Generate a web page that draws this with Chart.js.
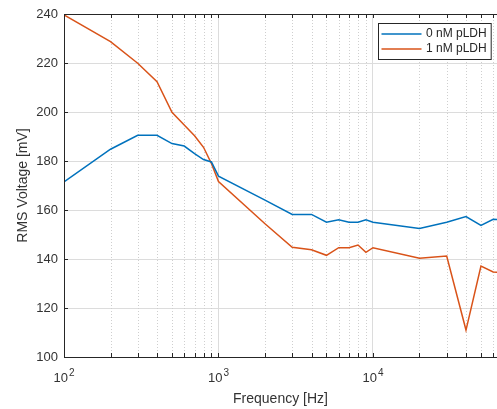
<!DOCTYPE html>
<html><head><meta charset="utf-8">
<script src="https://cdn.jsdelivr.net/npm/chart.js@4"></script>
<style>html,body{margin:0;padding:0;background:#fff;overflow:hidden}</style>
</head><body>
<canvas id="c" width="497" height="409"></canvas>
<script>
const frequencies = [100,200,300,400,500,600,700,800,900,1000,2000,3000,4000,5000,6000,7000,8000,9000,10000,20000,30000,40000,50000,60000,70000];
const rms0nM = [171.5,184.8,190.5,190.5,187.1,186.1,183.0,180.6,179.6,173.8,164.0,158.2,158.2,155.0,156.0,155.0,155.0,156.0,155.0,152.5,155.0,157.3,153.7,156.2,156.0];
const rms1nM = [239.6,228.7,219.9,212.4,199.9,194.7,190.3,185.6,179.0,171.6,154.4,144.8,143.8,141.5,144.6,144.6,145.7,142.7,144.6,140.3,141.2,111.0,137.1,134.7,134.5];
const seriesLabels = ['0 nM pLDH','1 nM pLDH'];
const xMajorTicks = [100,1000,10000];
const xLabelBase = '10';
const xLabelExponents = ['2','3','4'];
const xMinorTicks = [200,300,400,500,600,700,800,900,2000,3000,4000,5000,6000,7000,8000,9000,20000,30000,40000,50000,60000];
const yTicks = [100,120,140,160,180,200,220,240];
const xTitle = 'Frequency [Hz]';
const yTitle = 'RMS Voltage [mV]';

const FONT = '"Liberation Sans", Arial, Helvetica, sans-serif';
const AXIS = '#262626';
const LABEL = '#333333';
const toPoints = ys => frequencies.map((f,i)=>({x:f,y:ys[i]}));

const matlabFrame = {
  id:'matlabFrame',
  beforeDatasetsDraw(chart){
    const {ctx, chartArea:a, scales:{x}} = chart;
    ctx.save();
    ctx.strokeStyle='#cfcfcf'; ctx.lineWidth=1; ctx.setLineDash([1,2]);
    xMinorTicks.forEach(v=>{
      const px=Math.round(x.getPixelForValue(v))+0.5;
      if(px<a.left||px>a.right) return;
      ctx.beginPath(); ctx.moveTo(px,a.top); ctx.lineTo(px,a.bottom); ctx.stroke();
    });
    ctx.restore();
  },
  afterDatasetsDraw(chart){
    const {ctx, chartArea:a, scales:{x,y}} = chart;
    ctx.save();
    ctx.strokeStyle=AXIS; ctx.lineWidth=1;
    ctx.beginPath();
    ctx.moveTo(a.left,a.top+0.5); ctx.lineTo(a.right,a.top+0.5);
    ctx.moveTo(a.left+0.5,a.top); ctx.lineTo(a.left+0.5,a.bottom);
    ctx.moveTo(a.left,a.bottom+0.5); ctx.lineTo(a.right,a.bottom+0.5);
    ctx.stroke();
    const L=4;
    ctx.beginPath();
    xMajorTicks.concat(xMinorTicks).forEach(v=>{
      const px=Math.round(x.getPixelForValue(v))+0.5;
      if(px<a.left||px>a.right) return;
      ctx.moveTo(px,a.bottom); ctx.lineTo(px,a.bottom-L);
      ctx.moveTo(px,a.top); ctx.lineTo(px,a.top+L);
    });
    yTicks.forEach(v=>{
      const py=Math.round(y.getPixelForValue(v))+0.5;
      ctx.moveTo(a.left,py); ctx.lineTo(a.left+L,py);
    });
    ctx.stroke();
    // decade labels with superscript exponents
    ctx.fillStyle=LABEL; ctx.textBaseline='alphabetic'; ctx.textAlign='left';
    xMajorTicks.forEach((v,i)=>{
      const px=x.getPixelForValue(v);
      ctx.font='13px '+FONT;
      const wb=ctx.measureText(xLabelBase).width;
      ctx.font='10px '+FONT;
      const we=ctx.measureText(xLabelExponents[i]).width;
      const sx=px-(wb+we+1)/2;
      ctx.font='13px '+FONT;
      ctx.fillText(xLabelBase, sx, a.bottom+25);
      ctx.font='10px '+FONT;
      ctx.fillText(xLabelExponents[i], sx+wb+1, a.bottom+18.5);
    });
    ctx.restore();
  },
  afterDraw(chart){
    const {ctx, chartArea:a} = chart;
    const ds = chart.data.datasets;
    ctx.save();
    ctx.font = '12px '+FONT;
    const tw = Math.max(...ds.map(d=>ctx.measureText(d.label).width));
    const lineLen=40, padL=3, gap=4.5, padR=4.5, rowH=15;
    const boxW = padL+lineLen+gap+tw+padR, boxH = 36;
    const bx = Math.round(a.right-6-boxW)+0.5, by = a.top+9+0.5;
    ctx.fillStyle='#fff'; ctx.fillRect(bx,by,boxW,boxH);
    ctx.strokeStyle=AXIS; ctx.lineWidth=1; ctx.strokeRect(bx,by,boxW,boxH);
    ds.forEach((d,i)=>{
      const cy = by+10.5+i*rowH;
      ctx.strokeStyle=d.borderColor; ctx.lineWidth=1.5;
      ctx.beginPath(); ctx.moveTo(bx+padL,cy); ctx.lineTo(bx+padL+lineLen,cy); ctx.stroke();
      ctx.fillStyle=AXIS; ctx.textBaseline='middle'; ctx.textAlign='left';
      ctx.fillText(d.label, bx+padL+lineLen+gap, cy);
    });
    ctx.restore();
  }
};

new Chart(document.getElementById('c'), {
  type:'line',
  data:{datasets:[
    {label:seriesLabels[0], data:toPoints(rms0nM), borderColor:'#0072BD', borderWidth:1.5, pointRadius:0, tension:0, fill:false},
    {label:seriesLabels[1], data:toPoints(rms1nM), borderColor:'#D95319', borderWidth:1.5, pointRadius:0, tension:0, fill:false}
  ]},
  options:{
    responsive:false, animation:false, devicePixelRatio:1,
    layout:{padding:{top:14,left:0,right:0,bottom:0}},
    plugins:{legend:{display:false}, tooltip:{enabled:false}},
    scales:{
      x:{
        type:'logarithmic', min:100, max:63500,
        afterBuildTicks: s => { s.ticks = xMajorTicks.concat(xMinorTicks).sort((p,q)=>p-q).map(v=>({value:v, major:xMajorTicks.includes(v)})); },
        afterFit: s => { s.height = 52; s.paddingLeft = 0; s.paddingRight = 0; },
        ticks:{autoSkip:false, maxRotation:0, minRotation:0, padding:0, font:{family:FONT,size:13}, callback:()=>''},
        grid:{drawTicks:false, color:(c)=> (c.tick && xMajorTicks.includes(c.tick.value)) ? '#dcdcdc' : 'rgba(0,0,0,0)'},
        border:{color:AXIS},
        title:{display:true, text:xTitle, color:LABEL, font:{family:FONT,size:14}, padding:{top:0,bottom:1.5}}
      },
      y:{
        min:100, max:240,
        afterBuildTicks: s => { s.ticks = yTicks.map(v=>({value:v})); },
        afterFit: s => { s.width = 64; s.paddingTop = 0; s.paddingBottom = 0; },
        ticks:{padding:6, color:LABEL, font:{family:FONT,size:13}},
        grid:{drawTicks:false, color:'#dcdcdc'},
        border:{color:AXIS},
        title:{display:true, text:yTitle, color:LABEL, font:{family:FONT,size:14}, padding:{top:14.6,bottom:0}}
      }
    }
  },
  plugins:[matlabFrame]
});
</script>
</body></html>
